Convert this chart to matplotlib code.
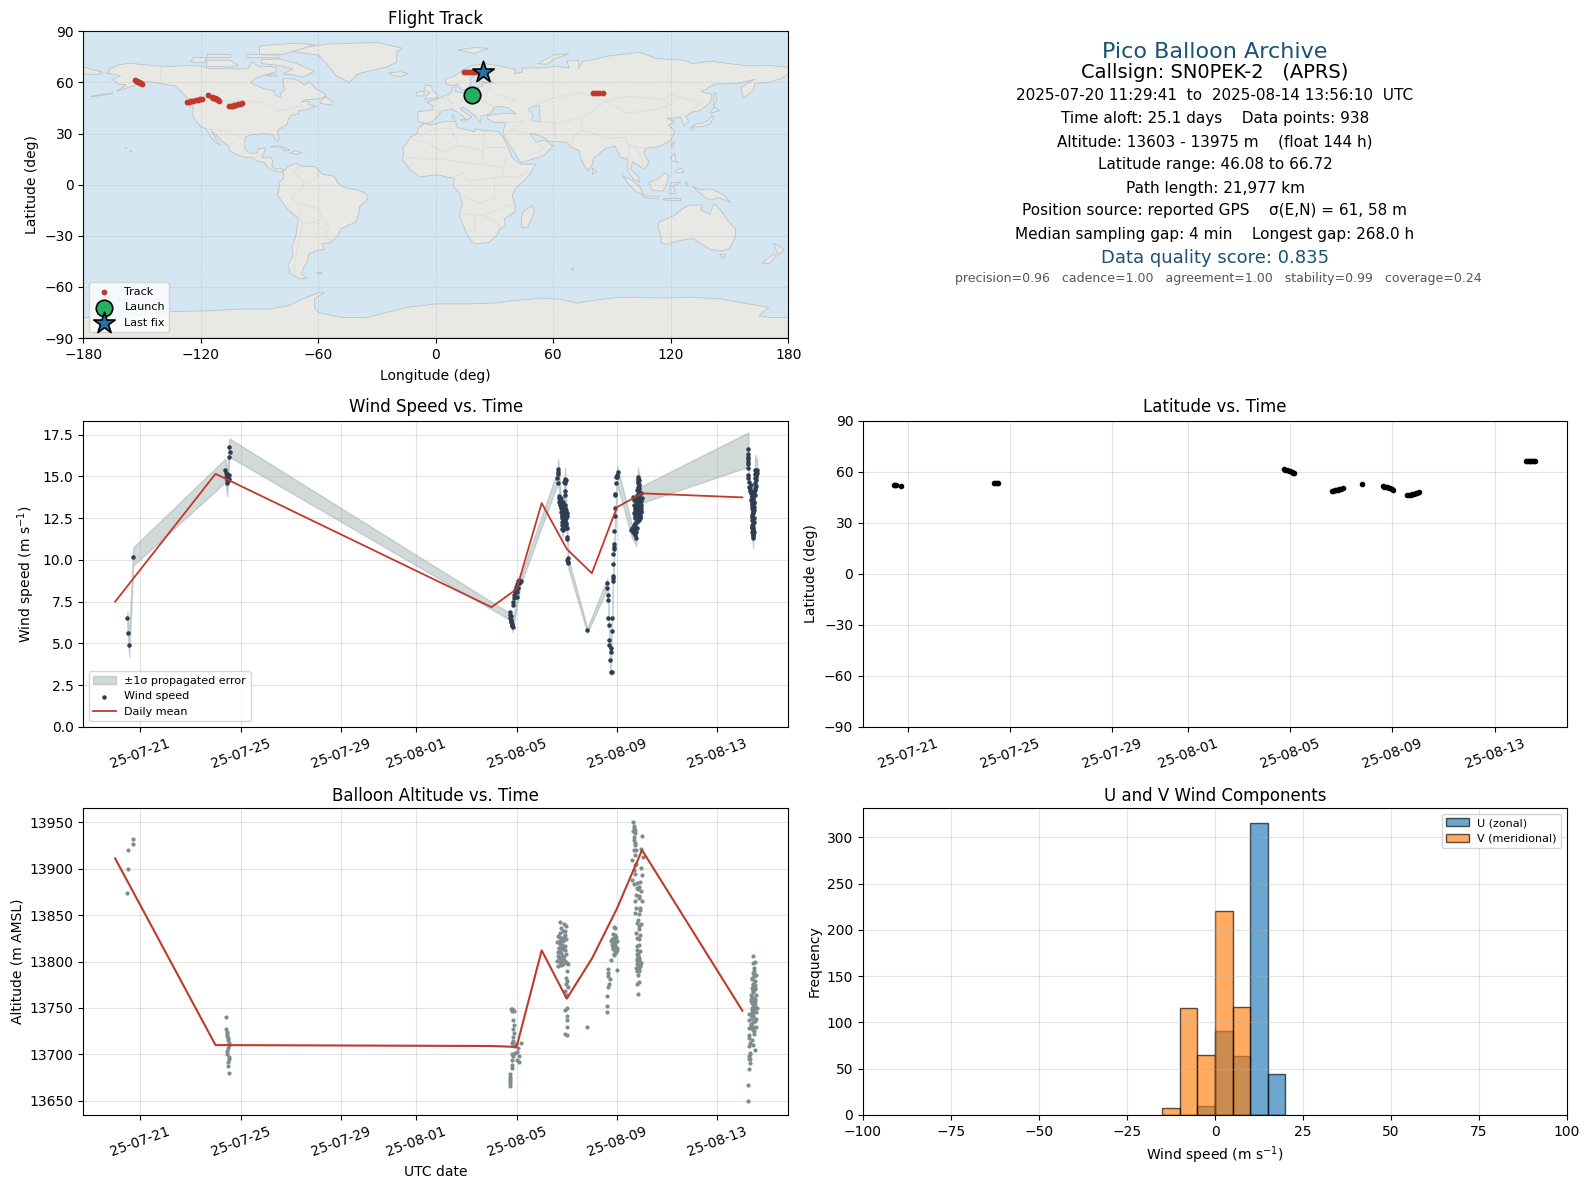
import datetime as dt

import matplotlib
matplotlib.use("Agg")
import matplotlib.dates as mdates
import matplotlib.pyplot as plt
import numpy as np
from matplotlib.patches import Polygon

# ==============================
# DATA
# ==============================

START = mdates.date2num(dt.datetime(2025, 7, 20))  # all t values are days from here

date_ticks = ["2025-07-21", "2025-07-25", "2025-07-29", "2025-08-01", "2025-08-05", "2025-08-09", "2025-08-13"]

# position fixes: time, latitude, longitude
fix_t = [0.48, 0.52, 0.56, 0.72,
         4.39, 4.44, 4.50, 4.55,
         15.74, 15.80, 15.87, 15.93, 16.00, 16.06, 16.11, 16.16,
         17.62, 17.68, 17.74, 17.80, 17.86, 17.92, 17.98, 18.06,
         18.82,
         19.62, 19.68, 19.74, 19.80, 19.86, 19.92, 19.97, 20.03,
         20.58, 20.65, 20.72, 20.78, 20.85, 20.92, 20.98, 21.05,
         25.24, 25.29, 25.34, 25.39, 25.44, 25.49, 25.54, 25.59]
fix_lat = [52.4, 52.2, 52.0, 51.7,
           53.5, 53.5, 53.5, 53.5,
           61.3, 61.1, 60.8, 60.5, 60.1, 59.8, 59.4, 59.1,
           48.6, 48.7, 48.9, 49.1, 49.4, 49.7, 50.0, 50.3,
           52.9,
           51.3, 51.1, 50.9, 50.7, 50.4, 50.1, 49.7, 49.3,
           46.0, 46.2, 46.4, 46.7, 47.0, 47.3, 47.6, 47.9,
           66.3, 66.3, 66.3, 66.3, 66.3, 66.3, 66.3, 66.3]
fix_lon = [18.7, 18.9, 19.1, 19.4,
           80.5, 82.0, 83.5, 85.2,
           -153.6, -153.2, -152.7, -152.2, -151.7, -151.2, -150.6, -149.9,
           -127.2, -126.0, -124.9, -123.8, -122.7, -121.6, -120.5, -119.5,
           -116.2,
           -114.1, -113.6, -113.1, -112.6, -112.1, -111.6, -111.1, -110.6,
           -105.6, -104.7, -103.8, -102.9, -102.0, -101.0, -99.9, -98.8,
           14.6, 15.7, 16.9, 18.0, 19.1, 20.3, 21.4, 22.5]

launch_lon, launch_lat = 18.7, 52.4
last_lon, last_lat = 24.3, 66.3

# wind speed dots
wind_t = [0.48, 0.52, 0.56, 0.72,
          4.55, 4.56, 4.52, 4.39, 4.43, 4.44, 4.47, 4.50, 4.53, 4.46, 4.50, 4.52, 4.47, 4.50, 4.46, 4.43,
          15.74, 15.74, 15.75, 15.76, 15.78, 15.80, 15.83, 15.84, 15.76, 15.79, 15.82, 15.87, 15.87, 15.90,
          15.90, 15.92, 15.95, 15.97, 16.00, 16.03, 16.05, 16.11, 16.16, 16.00, 16.04, 15.95, 16.08, 16.13,
          17.66, 17.66, 17.66, 17.62, 17.66, 17.68, 17.70, 17.73, 17.73, 17.76, 17.77, 17.79, 17.82, 17.83,
          17.83, 17.83, 17.83, 17.86, 17.89, 17.86, 17.93, 17.89, 17.97, 18.00, 17.91, 17.97, 17.79, 17.77,
          17.86, 17.70, 17.93, 17.93, 17.93, 17.97, 17.89, 17.93, 17.93, 18.02, 18.02, 18.02, 18.03, 18.02,
          18.06, 18.06,
          17.75, 17.78, 17.81, 17.84, 17.87, 17.90, 17.93, 17.96, 17.99, 17.80, 17.84, 17.88, 17.92, 17.95,
          17.85, 17.89, 17.94, 17.98, 17.82, 17.87, 17.91, 17.96, 17.72, 17.74, 17.77, 17.80, 17.91, 17.94,
          18.82,
          19.62, 19.60, 19.65, 19.65, 19.65, 19.69, 19.69, 19.69, 19.75, 19.75, 19.73, 19.75, 19.79, 19.81,
          19.81, 19.85, 19.85, 19.85, 19.85, 19.85, 19.88, 19.88, 19.89, 19.89, 19.91, 19.93, 19.93, 19.93,
          19.96, 19.95, 20.01, 20.03, 19.99,
          20.58, 20.62, 20.65, 20.69, 20.73, 20.77, 20.78, 20.73, 20.68, 20.76, 20.72, 20.78,
          20.65, 20.69, 20.68, 20.72, 20.68, 20.73, 20.78, 20.81, 20.78, 20.82, 20.78, 20.85, 20.89, 20.92,
          20.89, 20.94, 20.92, 20.97, 20.98, 20.97, 20.96, 20.86,
          20.84, 20.86, 20.82, 20.85, 20.88, 20.81, 20.89,
          20.70, 20.75, 20.80, 20.84, 20.88, 20.92, 20.95, 20.71, 20.76, 20.80, 20.85, 20.90, 20.94, 20.70,
          20.74, 20.79, 20.83, 20.87, 20.91, 20.66, 20.70, 20.84, 20.87, 20.83, 20.86, 20.84, 20.87, 20.83,
          25.24, 25.24, 25.24, 25.24, 25.24, 25.24, 25.24, 25.24, 25.24, 25.27, 25.27, 25.33, 25.37, 25.41,
          25.43, 25.46, 25.41, 25.43, 25.37, 25.39, 25.41, 25.43, 25.43, 25.37, 25.46, 25.50, 25.46, 25.50,
          25.33, 25.37, 25.46, 25.37, 25.43, 25.46, 25.51, 25.51, 25.51, 25.55, 25.59, 25.57, 25.51,
          25.29, 25.32, 25.35, 25.38, 25.41, 25.44, 25.47, 25.35, 25.38, 25.42, 25.45, 25.39, 25.42, 25.38,
          25.41, 25.44, 25.40, 25.43, 25.41, 25.44, 25.39, 25.42, 25.45, 25.53, 25.53, 25.56, 25.50, 25.53]
wind_v = [6.50, 5.60, 4.90, 10.20,
          16.73, 16.43, 16.15, 15.40, 15.20, 15.15, 15.10, 15.05, 15.10, 14.95, 14.90, 14.85, 14.75, 14.70, 14.62, 14.95,
          6.87, 6.71, 6.55, 6.41, 6.27, 6.15, 6.05, 5.99, 6.63, 6.35, 6.11, 7.30, 7.50, 7.70,
          7.90, 8.10, 8.20, 8.40, 8.10, 8.54, 8.74, 8.80, 8.76, 7.80, 8.30, 7.80, 8.60, 8.70,
          15.42, 15.28, 15.12, 14.88, 14.58, 13.82, 13.68, 13.52, 13.38, 13.25, 13.09, 12.89, 12.69, 12.49,
          12.29, 12.09, 11.83, 13.48, 13.19, 12.89, 12.69, 12.49, 12.99, 12.79, 12.25, 12.09, 13.45, 13.68,
          11.79, 13.45, 14.84, 14.72, 14.58, 14.78, 14.68, 14.12, 13.88, 11.89, 11.39, 11.25, 10.10, 9.97,
          9.90, 9.80,
          13.30, 13.20, 13.10, 13.00, 12.95, 12.85, 12.80, 12.70, 12.60, 12.60, 12.50, 12.40, 12.30, 12.20,
          12.15, 12.05, 11.95, 11.90, 13.30, 13.10, 13.00, 12.50, 13.60, 13.55, 13.30, 13.00, 13.30, 13.10,
          5.78,
          8.60, 8.30, 7.90, 7.60, 6.50, 6.10, 5.19, 4.91, 4.71, 4.51, 3.99, 3.28, 3.28, 6.50,
          5.73, 9.06, 8.90, 8.76, 9.74, 10.34, 10.63, 10.79, 10.93, 11.71, 12.60, 13.09, 13.94, 13.90,
          14.58, 14.98, 15.08, 15.28, 14.96,
          11.79, 11.89, 11.69, 11.59, 11.49, 11.29, 11.89, 11.99, 11.79, 11.65, 12.19, 12.25,
          13.78, 13.58, 13.28, 13.09, 12.79, 12.49, 13.88, 13.64, 13.38, 12.99, 12.69, 12.39, 13.78, 13.48,
          13.19, 12.89, 12.59, 13.98, 13.68, 13.28, 13.09, 12.79,
          14.98, 14.78, 14.58, 14.38, 14.12, 14.18, 14.48,
          13.70, 13.50, 13.30, 13.20, 13.10, 13.30, 13.50, 13.00, 12.90, 12.80, 12.70, 12.70, 12.90, 12.60,
          12.50, 12.40, 12.50, 12.40, 12.50, 12.10, 12.00, 14.70, 14.30, 14.85, 14.00, 13.85, 13.60, 13.50,
          16.62, 16.32, 16.18, 16.04, 15.88, 15.72, 15.48, 15.08, 14.88, 14.68, 14.38, 14.08, 13.78, 14.08,
          13.68, 13.38, 12.99, 12.79, 12.39, 12.09, 11.79, 11.49, 11.29, 13.09, 12.99, 13.88, 13.98, 14.18,
          14.48, 12.69, 12.49, 11.89, 11.99, 11.69, 14.58, 14.88, 15.12, 15.28, 15.38, 15.18, 15.38,
          14.25, 14.15, 14.00, 13.85, 13.75, 13.55, 13.45, 13.60, 13.40, 13.25, 13.15, 13.30, 12.85, 12.55,
          12.30, 12.15, 11.95, 11.70, 11.60, 11.40, 11.65, 11.85, 12.25, 14.75, 14.95, 15.10, 14.30, 14.45]

# error band: time, centre, sigma
band_t = [0.48, 0.56, 0.72, 4.39, 4.47, 4.55, 15.74, 15.84, 16.16, 17.62, 17.66, 17.83, 17.93, 18.06, 18.82,
          19.62, 19.75, 19.85, 20.01, 20.58, 20.77, 20.84, 20.97, 25.24, 25.25, 25.43, 25.51, 25.59]
band_c = [6.50, 4.90, 10.20, 15.35, 14.60, 16.72, 6.60, 5.99, 8.76, 14.88, 15.45, 11.83, 14.84, 9.80, 5.78,
          8.60, 3.28, 9.00, 15.08, 11.79, 11.29, 14.98, 13.90, 16.60, 15.08, 11.29, 15.38, 15.38]
band_s = [0.40, 0.70, 0.55, 0.70, 0.80, 0.55, 0.20, 0.30, 0.25, 0.40, 0.60, 0.50, 0.70, 0.30, 0.15,
          0.30, 0.20, 0.30, 0.55, 0.40, 0.45, 0.55, 0.50, 1.03, 0.40, 0.60, 0.90, 0.60]

# daily means
mean_t = [0, 4, 15, 16, 17, 18, 19, 20, 21, 25]
mean_wind = [7.50, 15.15, 7.17, 8.25, 13.40, 10.65, 9.20, 13.15, 13.98, 13.74]
mean_alt = [13911, 13710, 13709, 13708, 13812, 13760, 13803, 13857, 13920, 13747]

# altitude dots
alt_t = [0.48, 0.50, 0.52, 0.72, 0.73,
         4.40, 4.42, 4.44, 4.46, 4.47, 4.48, 4.50, 4.52, 4.53, 4.50, 4.47, 4.44, 4.52, 4.55, 4.50, 4.48, 4.53,
         15.74, 15.72, 15.74, 15.74, 15.75, 15.75, 15.80, 15.83, 15.80, 15.87, 15.82, 15.93, 16.03, 16.11, 16.03, 16.08,
         16.16, 16.07, 15.97, 15.87, 15.80, 15.91, 15.87, 15.91, 15.87, 15.90, 15.87, 15.80, 15.87, 15.76, 15.91, 15.83,
         17.73, 17.89, 17.97, 17.79, 17.86, 17.73, 17.93, 17.66, 17.79, 17.97, 17.86, 17.62, 17.73, 17.93, 17.70, 17.83,
         17.66, 17.79, 17.89, 17.70, 17.81, 17.62, 17.97, 17.76, 17.86, 18.02, 17.66, 18.06, 18.02, 17.97, 18.02, 17.97,
         18.06, 17.93, 18.02, 17.97, 17.99, 17.94, 18.02, 18.02, 18.02, 17.93, 18.02,
         17.68, 17.74, 17.80, 17.85, 17.91, 17.95, 17.68, 17.75, 17.82, 17.88, 17.93, 17.64, 17.72, 17.78, 17.84, 17.90,
         18.82,
         19.88, 19.92, 19.85, 19.92, 19.79, 19.75, 19.85, 19.99, 19.92, 20.01, 19.83, 19.92, 19.99, 19.89, 19.75, 20.01,
         19.65, 19.65, 19.65, 19.72, 19.69, 19.65, 19.62, 19.62, 19.62,
         19.82, 19.88, 19.95, 19.84, 19.90, 19.96, 19.86, 19.93, 19.87, 19.94,
         20.65, 20.68, 20.65, 20.72, 20.69, 20.72, 20.68, 20.76, 20.62, 20.72, 20.68, 20.72, 20.62, 20.68, 20.78, 20.74,
         20.72, 20.76, 20.72, 20.78, 20.74, 20.81, 20.78, 20.81, 20.78, 20.85, 20.78, 20.85, 20.81, 20.85,
         21.01, 20.97, 21.02, 20.97, 20.98, 20.92, 20.89, 20.97, 20.89, 20.98, 20.92, 20.89, 20.94, 20.86, 20.92, 20.89,
         20.86, 20.92, 20.89, 20.94, 20.86, 20.92, 20.86, 20.78, 20.76,
         20.66, 20.70, 20.66, 20.70, 20.72, 20.75, 20.79, 20.82, 20.87, 20.91, 20.84, 20.88, 20.80, 20.85, 20.90, 20.93,
         20.82, 20.86, 20.90, 20.84, 20.88, 20.83, 20.87, 20.80, 20.84,
         25.43, 25.50, 25.41, 25.46, 25.43, 25.54, 25.37, 25.51, 25.43, 25.37, 25.50, 25.41, 25.54, 25.43, 25.33, 25.50,
         25.41, 25.57, 25.37, 25.46, 25.27, 25.43, 25.25, 25.37, 25.54, 25.25, 25.41, 25.27, 25.27, 25.25, 25.43, 25.30,
         25.25, 25.30, 25.25, 25.24, 25.24,
         25.48, 25.39, 25.52, 25.44, 25.35, 25.47, 25.40, 25.53, 25.33, 25.45, 25.38, 25.49, 25.31, 25.42,
         25.46, 25.42, 25.50, 25.38, 25.44, 25.52, 25.40, 25.47, 25.55, 25.36, 25.43, 25.49, 25.34, 25.41, 25.47, 25.39,
         25.44, 25.52, 25.37, 25.45, 25.42, 25.36, 25.31, 25.29, 25.28, 25.33]
alt_m = [13874, 13900, 13920, 13927, 13932,
         13740, 13727, 13724, 13722, 13720, 13718, 13715, 13712, 13710, 13707, 13704, 13700, 13697, 13695, 13692, 13688, 13680,
         13666, 13669, 13671, 13674, 13676, 13679, 13685, 13689, 13694, 13698, 13700, 13702, 13703, 13692, 13694, 13698,
         13712, 13707, 13711, 13714, 13712, 13709, 13719, 13723, 13727, 13732, 13737, 13747, 13748, 13749, 13747, 13749,
         13843, 13840, 13838, 13836, 13833, 13831, 13829, 13827, 13825, 13824, 13822, 13821, 13819, 13817, 13815, 13813,
         13810, 13809, 13806, 13804, 13803, 13801, 13800, 13798, 13797, 13798, 13795, 13797, 13790, 13782, 13779, 13776,
         13773, 13768, 13764, 13763, 13750, 13748, 13741, 13737, 13730, 13722, 13721,
         13826, 13822, 13818, 13816, 13812, 13808, 13814, 13810, 13806, 13826, 13833, 13806, 13800, 13796, 13824, 13802,
         13730,
         13837, 13836, 13830, 13829, 13824, 13822, 13820, 13822, 13817, 13815, 13815, 13811, 13812, 13807, 13802, 13791,
         13792, 13788, 13784, 13781, 13776, 13773, 13763, 13752, 13746,
         13818, 13821, 13826, 13815, 13825, 13810, 13813, 13820, 13808, 13823,
         13950, 13944, 13940, 13938, 13931, 13928, 13920, 13920, 13909, 13904, 13899, 13894, 13888, 13883, 13879, 13872,
         13865, 13858, 13852, 13841, 13831, 13825, 13817, 13808, 13802, 13798, 13790, 13785, 13776, 13765,
         13935, 13921, 13912, 13901, 13893, 13886, 13880, 13876, 13870, 13865, 13858, 13851, 13840, 13838, 13829, 13824,
         13818, 13811, 13804, 13798, 13793, 13795, 13778, 13797, 13793,
         13946, 13942, 13934, 13925, 13915, 13905, 13885, 13878, 13868, 13855, 13845, 13835, 13812, 13806, 13800, 13796,
         13808, 13802, 13798, 13800, 13795, 13792, 13790, 13803, 13806,
         13806, 13799, 13798, 13793, 13788, 13785, 13781, 13779, 13775, 13772, 13772, 13767, 13764, 13761, 13757, 13757,
         13754, 13750, 13750, 13746, 13743, 13741, 13737, 13739, 13730, 13728, 13729, 13721, 13718, 13709, 13710, 13701,
         13698, 13691, 13684, 13667, 13650,
         13790, 13782, 13775, 13768, 13760, 13752, 13745, 13738, 13733, 13725, 13715, 13705, 13695, 13735,
         13784, 13776, 13770, 13762, 13758, 13754, 13748, 13750, 13746, 13742, 13740, 13736, 13732, 13726, 13722, 13745,
         13770, 13760, 13755, 13752, 13748, 13764, 13712, 13700, 13695, 13728]

# histogram of U and V
bin_left = [-15, -10, -5, 0, 5, 10, 15]
bin_width = 5
u_counts = [0, 0, 10, 91, 64, 316, 44]
v_counts = [8, 116, 65, 220, 117, 0, 0]

# info text
info_lines = [
    "2025-07-20 11:29:41  to  2025-08-14 13:56:10  UTC",
    "Time aloft: 25.1 days    Data points: 938",
    "Altitude: 13603 - 13975 m    (float 144 h)",
    "Latitude range: 46.08 to 66.72",
    "Path length: 21,977 km",
    "Position source: reported GPS    σ(E,N) = 61, 58 m",
    "Median sampling gap: 4 min    Longest gap: 268.0 h",
]
info_y = [96, 119, 142, 165, 188, 211, 234]

# coarse land outlines (lon, lat)
north_america = [(-168, 65.5), (-166, 68.3), (-162, 70.3), (-156.5, 71.3), (-150, 70.5), (-141, 69.6), (-135, 69.3), (-128, 70), (-120, 69.5), (-115, 68), (-108, 68), (-100, 68), (-96, 68), (-94, 72), (-90, 69), (-85, 69.5), (-81, 68.5), (-82, 66), (-87, 64.5), (-92, 62.5), (-94.5, 60), (-93, 58.7), (-88, 56.5), (-82.5, 55), (-82, 52.5), (-79.5, 51.3), (-79, 54), (-77, 56), (-78, 58.5), (-78, 62.3), (-73, 62), (-70, 61), (-67, 58.5), (-64.5, 60.3), (-61.5, 56.5), (-57, 53.5), (-56, 52), (-60, 50.2), (-66, 50), (-69, 48.5), (-65, 49), (-65, 47), (-61, 46), (-66, 44), (-70, 43.5), (-70, 41.7), (-74, 40.5), (-75.5, 38), (-76, 35), (-78.5, 33.8), (-81, 31.5), (-80, 27), (-80.5, 25.2), (-82, 27), (-83, 29), (-85, 29.7), (-89, 30), (-90, 29.2), (-94, 29.5), (-97, 28), (-97.7, 24), (-97.5, 21), (-95, 18.5), (-91.5, 18.5), (-90.5, 21), (-87, 21.5), (-88, 17.5), (-88.7, 15.8), (-84, 15.8), (-83.3, 14), (-83.7, 11), (-82, 9), (-79.5, 9.5), (-77.3, 8.5), (-78.2, 7.5), (-80, 7.3), (-83, 8.2), (-85.7, 10), (-87.6, 13), (-91.5, 14), (-94.5, 16.2), (-97, 15.8), (-101.5, 17.5), (-105.5, 20), (-105.5, 22.5), (-109, 25.5), (-112.7, 29.5), (-114.8, 31.7), (-113, 28), (-110, 23), (-112, 24.5), (-115, 28), (-117, 32.5), (-120.5, 34.5), (-122.5, 37.5), (-124.2, 40.5), (-124, 46.5), (-124.5, 48.5), (-123, 49.3), (-127, 51), (-130, 54.5), (-133.5, 58), (-137, 58.5), (-143, 60), (-148, 60.5), (-152, 59), (-157, 57), (-163, 54.8), (-158, 58.5), (-162, 59), (-165, 61.5), (-161, 64)]
south_america = [(-77.3, 8.5), (-75, 11), (-71.5, 12.4), (-68, 10.7), (-62, 10.7), (-57.5, 6), (-52, 5), (-50, 1), (-48, -1), (-44, -2.5), (-40, -3), (-35.3, -5.5), (-35, -9), (-39, -13), (-39.5, -18), (-41, -22), (-45, -24), (-48.5, -26), (-50, -30), (-53.5, -34), (-58, -34.5), (-57, -38), (-62, -39), (-65, -41), (-65.5, -45), (-68, -50), (-68.5, -52.5), (-65.5, -55), (-70, -55), (-74.5, -52), (-75.5, -47), (-73, -42), (-73.5, -37), (-71.5, -30), (-70.2, -20), (-76, -14), (-81, -6), (-80, -2.5), (-80, 1), (-77.5, 4), (-78, 7.5)]
africa = [(-6, 35.8), (-2, 35), (3, 36.8), (10, 37.3), (11, 33.5), (15, 32.3), (20, 31), (20, 32.8), (25, 31.7), (32, 31.2), (34.3, 28), (37, 22), (39, 16), (43, 12), (51, 12), (47, 4.5), (41, -2), (39, -6), (40.5, -12), (40.5, -16), (35, -20), (35.5, -24), (32.8, -26), (31, -30), (27, -34), (20, -34.8), (18, -33), (15, -27), (12, -18), (13.5, -11), (12, -5), (9, -1), (9.5, 3.8), (6, 4.3), (1, 5.8), (-4, 5.2), (-8, 4.5), (-13, 8.5), (-17, 14.7), (-16.5, 19), (-17, 21), (-13, 27.7), (-9.5, 30), (-9, 33)]
eurasia = [(-9, 37), (-9.3, 38.7), (-9, 43), (-2, 43.5), (-1, 46), (-4.7, 48.4), (1.5, 50.5), (4, 52), (8, 53.8), (8.5, 57), (10.5, 57.5), (10, 54.5), (14, 54), (19, 54.5), (21, 57), (24, 58), (24, 59.5), (30, 60), (25, 60.2), (21.5, 61), (21.5, 63), (25.3, 65.3), (22, 65.7), (17.5, 62.5), (18, 60), (16.5, 56.5), (14, 55.5), (12.7, 56.2), (11, 59), (8, 58), (5.2, 59.5), (5, 62), (10, 64), (14, 67.5), (18, 69.7), (25, 71), (31, 70), (41, 67.5), (40, 65), (44, 66), (44, 68.5), (54, 68.5), (61, 69.5), (68, 68.5), (67, 72.5), (73, 73), (73, 68), (75, 72.5), (81, 73.5), (88, 75.5), (104, 77.7), (113, 74), (127, 73), (131, 71), (140, 72.5), (150, 71), (160, 69.7), (170, 70), (180, 69), (180, 65), (177, 62.5), (170, 60), (163, 59.5), (162, 55), (157, 51), (155.7, 57), (163, 62), (155, 59.5), (142.5, 59), (135.5, 54.5), (141, 53), (140, 48), (135, 43.5), (130.5, 42.5), (127.5, 39.8), (129.4, 37), (126.5, 34.5), (126, 37), (125, 39.7), (121, 39), (118, 39), (122, 37), (119, 35), (122, 31), (120, 26), (114, 22.3), (108, 21.5), (106, 19), (109, 13), (106.5, 9), (105, 10), (100.5, 13.5), (99.5, 9), (103.5, 4.5), (104, 1.3), (101, 3), (98, 8), (98, 15), (94.5, 16), (91.5, 22.5), (87, 21.5), (80.5, 15.5), (80, 12), (77.5, 8), (74.5, 14), (73, 20), (69, 22), (67, 25), (57, 25.5), (56.5, 27), (50, 30), (48, 30), (51, 25), (56, 26), (59.8, 22.5), (55, 17), (43.5, 12.8), (39, 21), (35, 28), (34.3, 31.3), (36, 36.7), (30, 36.3), (26.5, 38.5), (26.5, 40.5), (29, 41), (35, 42), (41, 41.5), (37, 45), (33, 46), (30, 45.5), (28, 42), (26, 41), (23, 40.3), (23, 36.5), (19.5, 41), (14, 45.5), (12.3, 44.5), (16, 41.5), (18.3, 40), (16, 38), (11, 42.5), (8.5, 44.3), (3, 43.2), (0, 39), (-2, 36.8), (-5.5, 36)]
antarctica = [(-180, -78), (-160, -78), (-150, -76), (-135, -74.5), (-115, -74), (-100, -73), (-85, -73), (-75, -71), (-68, -67), (-60, -63.5), (-57, -63.5), (-62, -67), (-62, -72), (-60, -75), (-48, -78), (-35, -78), (-25, -75), (-15, -72), (0, -70), (15, -70), (30, -69.5), (40, -68), (55, -66.5), (65, -67.5), (72, -69.5), (80, -68), (90, -66.5), (100, -66), (115, -66.5), (130, -66), (145, -67), (160, -70), (170, -72), (165, -77), (170, -78), (180, -78), (180, -90), (-180, -90)]
australia = [(114, -22), (122, -18), (126, -14), (130, -12), (136, -12), (135.5, -15), (140, -17.5), (142, -11), (145.5, -15), (149, -21), (153, -26), (153, -31), (150, -37.5), (146, -39), (140, -38), (136, -35), (131, -31.5), (124, -33), (118, -35), (115, -34), (115, -30), (113.5, -25)]
greenland = [(-73, 78), (-60, 76), (-55, 70), (-51, 64), (-44, 60), (-40, 65), (-25, 69), (-20, 72), (-20, 78), (-17, 80), (-30, 83.5), (-55, 82.5), (-65, 81)]
islands = [
    [(-180, 69), (-175, 67.5), (-170, 66), (-173, 64.5), (-180, 65)],
    [(-62, 66.5), (-68, 63), (-73, 64.5), (-78, 65), (-73, 68), (-80, 70), (-89, 71), (-89, 73.5), (-80, 73.7), (-72, 71.5), (-67, 69)],
    [(-117, 69.5), (-105, 69), (-101, 70), (-105, 73), (-117, 73)],
    [(-90, 76.5), (-78, 76.5), (-62, 82), (-72, 83), (-90, 81.5)],
    [(-125, 72), (-118, 71.5), (-117, 74.5), (-124, 74.5)],
    [(-96, 74.5), (-80, 74.5), (-80, 76), (-96, 76.5)],
    [(-117, 75), (-105, 75), (-105, 76.5), (-117, 76.5)],
    [(-59, 47.7), (-53, 46.7), (-53, 49), (-56, 51.5), (-58, 50)],
    [(-87, 64), (-81, 63.5), (-82, 65)],
    [(-84.5, 22), (-80, 23), (-74.3, 20.2), (-77.5, 19.9), (-78, 21.5), (-82, 22.3)],
    [(-74.3, 18.5), (-72, 20), (-68.5, 18.7), (-71, 17.8)],
    [(-156, 19), (-155, 19.5), (-155.7, 20.2)],
    [(-158.5, 21.2), (-157.7, 21.3), (-158, 21.7)],
    [(-61, -51.5), (-58, -51.5), (-59, -52.5)],
    [(69, -49), (70.5, -49), (70, -50)],
    [(-176, 52), (-165, 54), (-165, 53.3), (-176, 51.5)],
    [(116, -8.3), (125, -8.2), (125, -9.5), (116, -9)],
    [(127.5, 1.5), (128.5, 1), (128, -1)],
    [(49.5, -12), (50.3, -16), (47, -25), (44, -25), (43.5, -21), (44.5, -16)],
    [(-5.5, 50), (1.3, 51.2), (0, 53.5), (-2, 56), (-2, 57.7), (-5, 58.6), (-6, 56), (-3, 54), (-5, 52)],
    [(-10, 52), (-6, 52.2), (-6, 55), (-10, 54)],
    [(-24, 65.5), (-18, 66.3), (-14, 65), (-18, 63.5), (-22, 64)],
    [(11, 79), (20, 80.5), (27, 80), (20, 77)],
    [(52, 71), (57, 70.7), (60, 73.5), (68, 76.8), (60, 76)],
    [(142, 46), (143.5, 49), (143, 54), (142, 53), (142, 48)],
    [(131, 34), (136, 34), (140, 35.5), (142, 39.5), (141, 41), (139.5, 38), (136, 36), (132, 35.5)],
    [(140, 42), (145, 43.3), (142, 45.5)],
    [(130, 32), (131.5, 32), (131, 34), (130, 33.5)],
    [(80, 6), (82, 7.5), (80, 9.7)],
    [(120.3, 23), (121, 22), (122, 25), (121, 25.2)],
    [(120, 16), (122, 18.5), (122.5, 14), (124, 13), (121, 13.7)],
    [(122, 7), (126.5, 7), (125.5, 9.8), (123, 8.7)],
    [(109, 1.5), (113, 3), (117, 7), (119, 5), (118, 1), (116, -4), (110, -3)],
    [(95.3, 5.5), (100, 2.5), (104, -1), (106, -6), (102, -4), (98, 1)],
    [(105.5, -6.5), (114, -7), (114, -8.5), (106, -7.5)],
    [(119.5, -5.5), (120, 1), (125, 1.5), (121, -1), (122.5, -5)],
    [(131, -1), (135, -3), (141, -2.5), (147, -6), (150.5, -10.5), (144, -7.5), (141, -9), (138, -8), (134, -4)],
    [(145, -41), (148, -41), (147, -43.5)],
    [(172.7, -34.5), (178, -38), (175, -41.5), (174, -39)],
    [(172.5, -40.7), (174, -42), (170, -46.5), (166.5, -46)],
    [(8.5, 39), (9.7, 39.3), (9.3, 41), (8.2, 40.8)],
    [(12.5, 38), (15.5, 38.2), (15, 36.7)],
]
caspian = [(47, 45), (53, 46.5), (53, 40), (54, 37), (49, 37.5), (49.5, 41)]
borders = [
    [(-123, 49), (-95, 49), (-88, 48), (-83, 46), (-82, 43), (-76, 44), (-70, 46), (-67, 45)],
    [(-141, 69.6), (-141, 60)],
    [(-117, 32.5), (-106, 31.7), (-97.5, 26)],
    [(-92, 14.5), (-91, 17.5), (-89, 18)],
    [(-70, 12), (-72, 7), (-67, 1), (-70, -4), (-74, -8), (-70, -11), (-69, -18)],
    [(-60, 8), (-60, 5), (-64, 2), (-67, 1)],
    [(-70, -11), (-60, -14), (-58, -20), (-54, -25), (-57, -30), (-53, -34)],
    [(-70, -18), (-68, -23), (-70, -33), (-72, -45), (-72, -52)],
    [(-58, -20), (-62, -22), (-68, -23)],
    [(-9, 28), (-2, 32), (2, 33), (8, 33), (9, 30), (12, 23), (24, 20), (25, 31)],
    [(-13, 27), (-5, 25), (4, 19), (12, 23)],
    [(-16, 16), (-5, 15), (4, 15), (14, 13), (24, 12), (24, 20)],
    [(24, 22), (37, 22)],
    [(24, 12), (34, 10), (36, 15)],
    [(34, 10), (35, 5), (41, 4), (47, 8)],
    [(9, 4), (14, 7), (16, 2), (30, 4), (35, 5)],
    [(12, -5), (22, -11), (30, -8), (30, -1), (30, 4)],
    [(12, -17), (24, -18), (33, -14), (40, -11)],
    [(15, -27), (20, -28), (20, -18)],
    [(24, -18), (32, -22), (32, -26)],
    [(-2, 43.5), (3, 43)],
    [(3, 51), (7, 49), (8, 48), (7, 44)],
    [(7, 54), (6, 51), (8, 48), (13, 48), (14, 51), (14, 54)],
    [(14, 51), (23, 50), (24, 54), (28, 56), (28, 60)],
    [(23, 50), (30, 45.5)],
    [(31, 53), (40, 50), (37, 47)],
    [(30, 70), (30, 62), (28, 60)],
    [(47, 45), (60, 51), (75, 54), (87, 49), (98, 52), (115, 50), (120, 53), (135, 48), (131, 43)],
    [(87, 49), (80, 43), (74, 39), (61, 36), (54, 37)],
    [(87, 49), (98, 42), (112, 44), (120, 47), (115, 50)],
    [(74, 39), (75, 32), (81, 30), (88, 27), (97, 28), (98, 24), (102, 22), (108, 21.5)],
    [(61, 36), (61, 30), (62, 25)],
    [(75, 32), (70, 28), (69, 22)],
    [(44, 37), (39, 32), (48, 30)],
    [(44, 37), (48, 39), (49, 37.5)],
    [(44, 37), (36, 36.7)],
    [(39, 32), (35, 29)],
    [(45, 17), (52, 19), (55, 22), (51, 25)],
    [(98, 24), (98, 16)],
    [(102, 22), (105, 15), (106, 11)],
]


# ==============================
# HELPERS
# ==============================

W, H = 1590, 1189


def panel(left, top, right, bottom):
    # axes position given in picture pixels
    return fig.add_axes([left / W, 1 - bottom / H, (right - left) / W, (bottom - top) / H])


def date_axis(ax, t_left=-1.27, t_right=26.83):
    ax.set_xlim(START + t_left, START + t_right)
    ax.set_xticks([mdates.datestr2num(d) for d in date_ticks])
    ax.xaxis.set_major_formatter(mdates.DateFormatter("%y-%m-%d"))
    plt.setp(ax.get_xticklabels(), rotation=20)
    ax.grid(True, alpha=0.35)


fig = plt.figure(figsize=(15.9, 11.89), dpi=100)

wind_x = START + np.array(wind_t)
alt_x = START + np.array(alt_t)
mean_x = START + np.array(mean_t)
band_x = START + np.array(band_t)
band_c = np.array(band_c)
band_s = np.array(band_s)
fix_x = START + np.array(fix_t)

# ==============================
# 1. FLIGHT TRACK
# ==============================

ax = panel(83.3, 31.3, 788.3, 338)
ax.set_facecolor("#d4e6f1")

land = [north_america, south_america, africa, eurasia, antarctica, australia, greenland] + islands
for shape in land:
    ax.add_patch(Polygon(shape, closed=True, facecolor="#e8e8e4", edgecolor="#bcc3c6", linewidth=0.6, zorder=1))
ax.add_patch(Polygon(caspian, closed=True, facecolor="#d4e6f1", edgecolor="#bcc3c6", linewidth=0.5, zorder=1.1))
for line in borders:
    xs, ys = zip(*line)
    ax.plot(xs, ys, color="#dcdcd8", linewidth=0.6, zorder=1.2)

ax.scatter(fix_lon, fix_lat, s=10, color="#c0392b", label="Track", zorder=3)
ax.scatter(launch_lon, launch_lat, s=140, color="#27ae60", edgecolor="k", linewidth=1.2, label="Launch", zorder=4)
ax.scatter(last_lon, last_lat, s=260, marker="*", color="#2471a3", edgecolor="k", linewidth=1.2, label="Last fix", zorder=5)

ax.set_xlim(-180, 180)
ax.set_ylim(-90, 90)
ax.set_xticks(np.arange(-180, 181, 60))
ax.set_yticks(np.arange(-90, 91, 30))
ax.grid(True, linestyle="--", linewidth=0.5, color="gray", alpha=0.25, zorder=2)
ax.set_axisbelow(False)
ax.set_title("Flight Track", fontsize=12, pad=5)
ax.set_xlabel("Longitude (deg)", labelpad=5)
ax.set_ylabel("Latitude (deg)")
ax.legend(loc="lower left", fontsize=8, labelspacing=0.5, borderpad=0.4)

# ==============================
# 2. INFO TEXT
# ==============================

CX = 1215 / W
fig.text(CX, 1 - 52 / H, "Pico Balloon Archive", ha="center", va="center", fontsize=16, color="#1a5276")
fig.text(CX, 1 - 73 / H, "Callsign: SN0PEK-2   (APRS)", ha="center", va="center", fontsize=14)
for line, y in zip(info_lines, info_y):
    fig.text(CX, 1 - y / H, line, ha="center", va="center", fontsize=11)
fig.text(CX, 1 - 258 / H, "Data quality score: 0.835", ha="center", va="center", fontsize=13, color="#1a5276")
fig.text(1218 / W, 1 - 279 / H, "precision=0.96   cadence=1.00   agreement=1.00   stability=0.99   coverage=0.24",
         ha="center", va="center", fontsize=9, color="#555555")

# ==============================
# 3. WIND SPEED
# ==============================

ax = panel(83.3, 420.5, 788.3, 727)
ax.fill_between(band_x, band_c - band_s, band_c + band_s, color="#95a5a6", alpha=0.42, label="±1σ propagated error")
ax.scatter(wind_x, wind_v, s=5, color="#2c3e50", label="Wind speed", zorder=3)
ax.plot(mean_x, mean_wind, color="#c0392b", linewidth=1.3, label="Daily mean", zorder=4)
date_axis(ax)
ax.set_ylim(0, 18.34)
ax.set_yticks(np.arange(0, 17.6, 2.5))
ax.set_title("Wind Speed vs. Time", fontsize=12)
ax.set_ylabel("Wind speed (m s$^{-1}$)")
ax.legend(loc="lower left", fontsize=8)

# ==============================
# 4. LATITUDE
# ==============================

ax = panel(863, 420.5, 1567, 727)
ax.scatter(fix_x, fix_lat, s=9, color="k", zorder=3)
date_axis(ax, t_left=-0.75, t_right=26.84)
ax.set_ylim(-90, 90)
ax.set_yticks(np.arange(-90, 91, 30))
ax.set_title("Latitude vs. Time", fontsize=12)
ax.set_ylabel("Latitude (deg)")

# ==============================
# 5. ALTITUDE
# ==============================

ax = panel(83.3, 808, 788.3, 1115)
ax.scatter(alt_x, alt_m, s=4, color="#7f8c8d", zorder=3)
ax.plot(mean_x, mean_alt, color="#c0392b", linewidth=1.5, zorder=4)
date_axis(ax)
ax.set_ylim(13634.7, 13965.3)
ax.set_yticks(np.arange(13650, 13951, 50))
ax.set_title("Balloon Altitude vs. Time", fontsize=12, pad=5)
ax.set_xlabel("UTC date")
ax.set_ylabel("Altitude (m AMSL)")

# ==============================
# 6. U AND V HISTOGRAM
# ==============================

ax = panel(863, 808, 1567, 1115)
ax.bar(bin_left, u_counts, width=bin_width, align="edge", color="#1f77b4", edgecolor="k", alpha=0.65, label="U (zonal)")
ax.bar(bin_left, v_counts, width=bin_width, align="edge", color="#ff7f0e", edgecolor="k", alpha=0.65, label="V (meridional)")
ax.set_xlim(-100, 100)
ax.set_ylim(0, 331.8)
ax.set_xticks(np.arange(-100, 101, 25))
ax.grid(True, alpha=0.35)
ax.set_title("U and V Wind Components", fontsize=12, pad=5)
ax.set_xlabel("Wind speed (m s$^{-1}$)")
ax.set_ylabel("Frequency")
ax.legend(loc="upper right", fontsize=8)

plt.savefig("out.png", dpi=100)
plt.close()
